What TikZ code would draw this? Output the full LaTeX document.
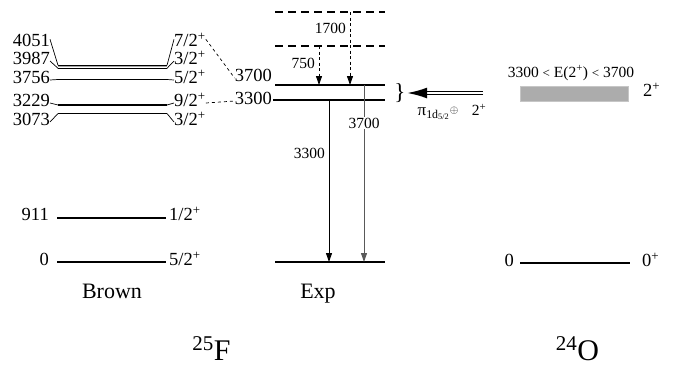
\documentclass[tikz,border=0pt]{standalone}
\usepackage{fontspec}
\setmainfont{Liberation Serif}
\usetikzlibrary{arrows.meta,calc}
\begin{document}
\begin{tikzpicture}[x=1pt,y=-1pt,
  lvl/.style={line width=1.4pt},
  elab/.style={font=\fontsize{18.5}{20}\selectfont, inner sep=0pt, text height=0.68em, text depth=0.02em},
  tlab/.style={font=\fontsize{15.5}{18}\selectfont, inner sep=1pt},
  conn/.style={line width=0.7pt},
  dconn/.style={line width=0.7pt, dash pattern=on 3pt off 3pt},
  bigdash/.style={line width=1.3pt, dash pattern=on 8pt off 5pt},
  gtip/.style={-{Triangle[length=9pt,width=6pt]}},
  title/.style={font=\fontsize{22}{24}\selectfont, inner sep=0pt, anchor=base},
  nucl/.style={font=\fontsize{30}{32}\selectfont, inner sep=0pt, anchor=base}]
\useasboundingbox (0,0) rectangle (675,365);

% ---------------- Brown ----------------
\node[elab, anchor=east] (b4051) at (50,43) {4051};
\node[elab, anchor=east] (b3987) at (50,61) {3987};
\node[elab, anchor=east] (b3756) at (50,80) {3756};
\node[elab, anchor=east] (b3229) at (50,103) {3229};
\node[elab, anchor=east] (b3073) at (50,122) {3073};
\node[elab, anchor=east] (b911) at (49,217) {911};
\node[elab, anchor=east] (b0) at (49,262) {0};

\node[elab, anchor=west] (s4051) at (174,43) {7/2\textsuperscript{+}};
\node[elab, anchor=west] (s3987) at (174,61) {3/2\textsuperscript{+}};
\node[elab, anchor=west] (s3756) at (174,80) {5/2\textsuperscript{+}};
\node[elab, anchor=west] (s3229) at (174,103) {9/2\textsuperscript{+}};
\node[elab, anchor=west] (s3073) at (174,122) {3/2\textsuperscript{+}};
\node[elab, anchor=west] (s911) at (169,217) {1/2\textsuperscript{+}};
\node[elab, anchor=west] (s0) at (169,262) {5/2\textsuperscript{+}};

\coordinate (l4051) at (58,65.3);  \coordinate (r4051) at (167,65.3);
\coordinate (l3987) at (58,68.3);  \coordinate (r3987) at (167,68.3);
\coordinate (l3756) at (58,79.5);  \coordinate (r3756) at (167,79.5);
\coordinate (l3229) at (58,105);   \coordinate (r3229) at (167,105);
\coordinate (l3073) at (58,113.5); \coordinate (r3073) at (167,113.5);
\coordinate (l911) at (57,218);    \coordinate (r911) at (166,218);
\coordinate (l0) at (57,262);      \coordinate (r0) at (166,262);

\draw[line width=1.1pt] (l4051) -- (r4051);
\draw[line width=1.1pt] (l3987) -- (r3987);
\draw[gray!70, line width=1pt] ($(l4051)!0.5!(l3987)$) -- ($(r4051)!0.5!(r3987)$);
\foreach \n in {3756,3229,3073,911,0} {\draw[lvl] (l\n) -- (r\n);}

\draw[conn] (b4051.north east) -- (l4051);
\draw[conn] (b3987.east) -- (l3987);
\draw[conn] (b3756.east) -- (l3756);
\draw[conn] (b3229.east) -- (l3229);
\draw[conn] (b3073.east) -- (l3073);
\draw[conn] (r4051) -- (s4051.north west);
\draw[conn] (r3987) -- (s3987.west);
\draw[conn] (r3756) -- (s3756.west);
\draw[conn] (r3229) -- (s3229.west);
\draw[conn] (r3073) -- (s3073.west);

\node[title] (brown) at (112,298) {Brown};

% ---------------- Exp ----------------
\node[elab, anchor=east] (e3700) at (272,78) {3700};
\node[elab, anchor=east] (e3300) at (272,101) {3300};

\draw[dconn] (s4051.north east) -- (e3700.west);
\draw[dconn] (s3229.east) -- (e3300.west);

\coordinate (x3700l) at (275,85);  \coordinate (x3700r) at (385,85);
\coordinate (x3300l) at (273,100); \coordinate (x3300r) at (385,100);
\coordinate (x0l) at (275,262);    \coordinate (x0r) at (385,262);
\draw[lvl] (x3700l) -- (x3700r);
\draw[lvl] (x3300l) -- (x3300r);
\draw[lvl] (x0l) -- (x0r);

\coordinate (dtl) at (275,12);  \coordinate (dtr) at (385,12);
\coordinate (dbl) at (275,46);  \coordinate (dbr) at (385,46);
\draw[bigdash] (dtl) -- (dtr);
\draw[bigdash] (dbl) -- (dbr);

\coordinate (a1700s) at (350,12); \coordinate (a1700e) at (350,85);
\coordinate (a750s) at (319,46);  \coordinate (a750e) at (319,85);
\draw[line width=0.9pt, dash pattern=on 3pt off 2.5pt, gtip] (a1700s) -- (a1700e);
\draw[line width=0.9pt, dash pattern=on 3pt off 2.5pt, gtip] (a750s) -- (a750e);
\node[tlab, anchor=east] (t1700) at (347,28) {1700};
\node[tlab, anchor=east] (t750) at (316,63) {750};

\coordinate (g3300s) at (329,100); \coordinate (g3300e) at (329,262);
\coordinate (g3700s) at (364,85);  \coordinate (g3700e) at (364,262);
\draw[solid, line width=1pt, gtip] (g3300s) -- (g3300e);
\draw[solid, line width=1pt, black!65, gtip] (g3700s) -- (g3700e);
\node[tlab, anchor=east] (t3300) at (326,153) {3300};
\node[tlab, fill=white] (t3700) at (364,123) {3700};

\node[title] (exp) at (318,298) {Exp};

% brace and incoming arrow
\node[font=\fontsize{23}{24}\selectfont, inner sep=1.5pt] (brace) at (400,93) {\}};
\coordinate (atail) at (483,93);
\draw[double, double distance=1.4pt, line width=1.6pt, -{Latex[length=20pt,width=11pt]}] (atail) -- (brace.east);
\node[inner sep=0pt, font=\fontsize{17}{18}\selectfont] (pi) at (452,112) {π\textsubscript{1d\textsubscript{5/2}}\raisebox{0.3ex}{\fontsize{11}{12}\selectfont$\oplus$}\hspace{0.8em}{\fontsize{15.5}{18}\selectfont 2\textsuperscript{+}}};

% ---------------- 24O ----------------
\node[tlab] (range) at (571,73) {3300 {\fontsize{13}{14}\selectfont<} E(2\textsuperscript{+}) {\fontsize{13}{14}\selectfont<} 3700};
\node[draw=gray!45, fill=gray!65, minimum width=108pt, minimum height=15pt, inner sep=0pt, line width=0.8pt] (box) at (574,93.5) {};
\node[elab, anchor=west] (o2) at (643,93) {2\textsuperscript{+}};

\coordinate (o0l) at (520,263); \coordinate (o0r) at (630,263);
\draw[lvl] (o0l) -- (o0r);
\node[elab, anchor=east] (o0) at (514,263) {0};
\node[elab, anchor=west] (o0p) at (642,263) {0\textsuperscript{+}};

% nuclei
\node[nucl] (f25) at (211.5,360) {\textsuperscript{25}F};
\node[nucl] (o24) at (577.5,360) {\textsuperscript{24}O};
\end{tikzpicture}
\end{document}
